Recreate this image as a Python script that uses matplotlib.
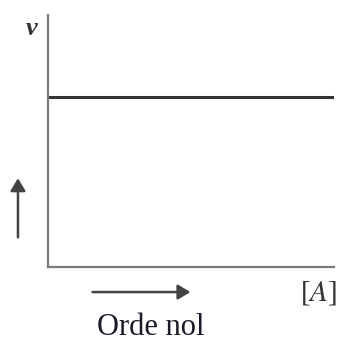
import matplotlib
matplotlib.use("Agg")
import matplotlib.pyplot as plt

# data
concentration = [0.0, 1.0]
rate = [0.675, 0.675]
x_label = "[$A$]"
y_label = "v"
caption = "Orde nol"

plt.rcParams['font.family'] = ['Liberation Serif', 'DejaVu Serif']
plt.rcParams['mathtext.fontset'] = 'stix'

fig = plt.figure(figsize=(3.39, 3.42), dpi=100)
ax = fig.add_axes([0.1416, 0.2193, 0.845, 0.737])
ax.plot(concentration, rate, color='#333333', lw=2.2, solid_capstyle='butt')
ax.set_xlim(0, 1.0)
ax.set_ylim(0, 1)
for s in ['top', 'right']:
    ax.spines[s].set_visible(False)
for s in ['left', 'bottom']:
    ax.spines[s].set_color('#7a7a7a')
    ax.spines[s].set_linewidth(1.6)
ax.set_xticks([])
ax.set_yticks([])

fig.text(0.094, 0.917, y_label, fontsize=19, style='italic', fontweight='bold',
         ha='center', va='center', color='#333333')
fig.text(0.94, 0.143, x_label, fontsize=21, ha='center', va='center', color='#333333')
fig.text(0.446, 0.042, caption, fontsize=22, ha='center', va='center', color='#1a1a2a')

# arrows
fig.patches.append(matplotlib.patches.FancyArrowPatch(
    (0.053, 0.298), (0.053, 0.487), transform=fig.transFigure,
    arrowstyle='-|>,head_length=5,head_width=3', mutation_scale=1.5,
    color='#444444', lw=1.8))
fig.patches.append(matplotlib.patches.FancyArrowPatch(
    (0.265, 0.146), (0.57, 0.146), transform=fig.transFigure,
    arrowstyle='-|>,head_length=5,head_width=3', mutation_scale=1.5,
    color='#444444', lw=1.8))

fig.savefig("out.png", dpi=100)
